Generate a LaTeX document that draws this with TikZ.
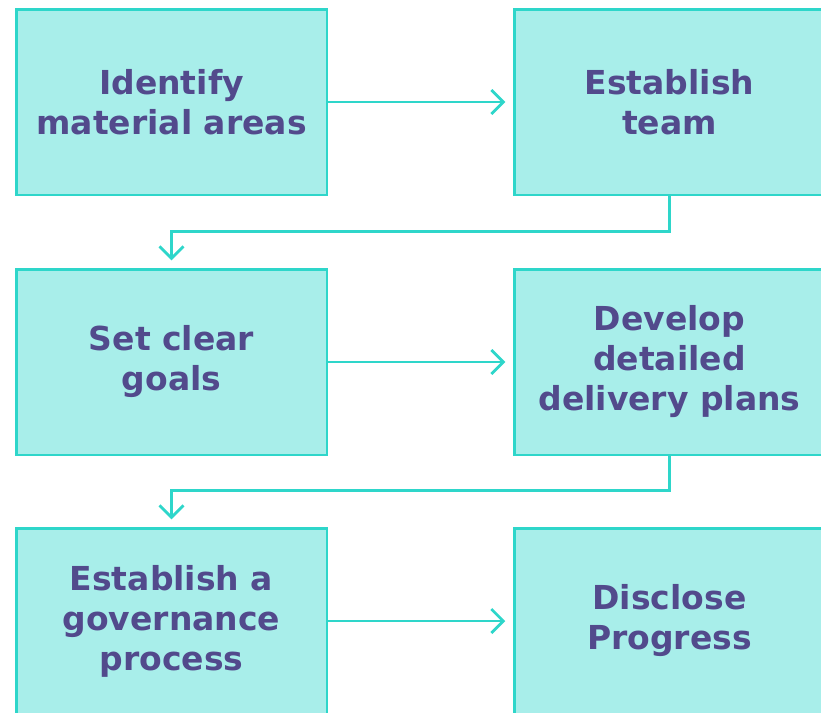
\documentclass[tikz,border=0pt]{standalone}
\usepackage{fontspec}
\setmainfont{DejaVu Sans}
\usetikzlibrary{arrows.meta,positioning}
\definecolor{boxfill}{HTML}{A8EEEA}
\definecolor{boxline}{HTML}{2ED6CA}
\definecolor{boxtext}{HTML}{524A8C}

\begin{document}
\begin{tikzpicture}[x=1pt, y=-1pt, node distance = 74.5pt and 187.5pt]
\tikzset{StepStyle/.style = {draw=boxline, fill=boxfill, line width=2.5pt, outer sep=0pt,
    minimum width=310.5pt, minimum height=185.5pt, align=center, text=boxtext,
    font=\fontsize{33}{40}\selectfont\bfseries}}
\tikzset{ArrowStyle/.style = {draw=boxline, line width=2.8pt, shorten >=9pt,
    -{Straight Barb[length=12pt, width=24pt, line width=2.8pt]}}}
\useasboundingbox (0,0) rectangle (821,712);
\clip (0,0) rectangle (821,712);
\node[StepStyle] (Identify) at (171.5,102) {Identify\\material areas};
\node[StepStyle, right=of Identify] (Team) {Establish\\team};
\node[StepStyle, below=of Identify] (Goals) {Set clear\\goals};
\node[StepStyle, right=of Goals] (Plans) {Develop\\detailed\\delivery plans};
\node[StepStyle, below=73.5pt of Goals] (Gov) {Establish a\\governance\\process};
\node[StepStyle, right=of Gov] (Disclose) {Disclose\\Progress};
\draw[ArrowStyle] (Identify) -- (Team);
\draw[ArrowStyle] (Goals) -- (Plans);
\draw[ArrowStyle] (Gov) -- (Disclose);
\draw[ArrowStyle] (Team.south) -- ++(0,37) -| (Goals.north);
\draw[ArrowStyle] (Plans.south) -- ++(0,36) -| (Gov.north);
\end{tikzpicture}
\end{document}
